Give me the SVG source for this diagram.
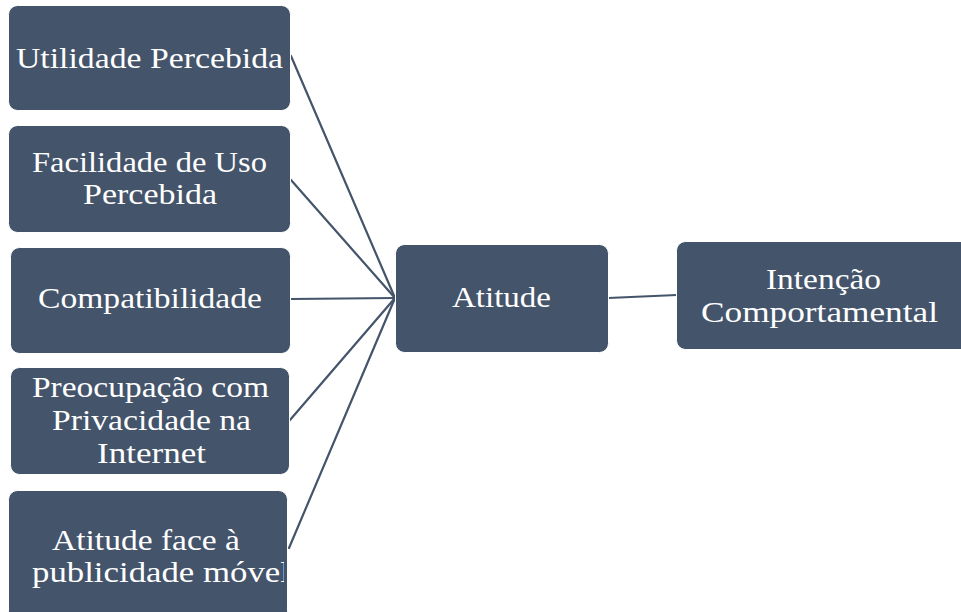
<svg xmlns="http://www.w3.org/2000/svg" width="961" height="612" viewBox="0 0 961 612">
  <style>
    .box { fill: #44546A; stroke: #ffffff; stroke-width: 1; }
    .lbl { font-family: "Liberation Serif", "DejaVu Serif", serif; font-size: 28.5px; fill: #ffffff; }
    .edge { stroke: #44546A; stroke-width: 2.2; fill: none; stroke-linecap: round; }
  </style>
  <defs>
    <clipPath id="clip-pub">
      <rect x="8" y="490" width="276" height="122"/>
    </clipPath>
  </defs>
  <rect width="961" height="612" fill="#ffffff"/>

  <!-- connectors -->
  <g id="connectors">
    <line class="edge" x1="291" y1="56" x2="395" y2="298"/>
    <line class="edge" x1="291" y1="180" x2="395" y2="298"/>
    <line class="edge" x1="291" y1="299" x2="395" y2="298"/>
    <line class="edge" x1="290" y1="420" x2="395" y2="298"/>
    <line class="edge" x1="289" y1="548" x2="395" y2="298"/>
    <line class="edge" x1="608" y1="298" x2="677" y2="295"/>
  </g>

  <g id="utilidade">
    <rect class="box" x="8.5" y="5.5" width="282" height="105" rx="9"/>
    <text class="lbl" x="16" y="68" textLength="267" lengthAdjust="spacingAndGlyphs">Utilidade Percebida</text>
  </g>

  <g id="facilidade">
    <rect class="box" x="8.5" y="125.5" width="282" height="107" rx="9"/>
    <text class="lbl" x="32" y="172" textLength="235" lengthAdjust="spacingAndGlyphs">Facilidade de Uso</text>
    <text class="lbl" x="83" y="204" textLength="134" lengthAdjust="spacingAndGlyphs">Percebida</text>
  </g>

  <g id="compatibilidade">
    <rect class="box" x="10.5" y="247.5" width="280" height="106" rx="9"/>
    <text class="lbl" x="38" y="308" textLength="224" lengthAdjust="spacingAndGlyphs">Compatibilidade</text>
  </g>

  <g id="privacidade">
    <rect class="box" x="10.5" y="367.5" width="279" height="107" rx="9"/>
    <text class="lbl" x="32" y="397" textLength="237" lengthAdjust="spacingAndGlyphs">Preocupação com</text>
    <text class="lbl" x="52" y="430" textLength="199" lengthAdjust="spacingAndGlyphs">Privacidade na</text>
    <text class="lbl" x="97" y="463" textLength="109" lengthAdjust="spacingAndGlyphs">Internet</text>
  </g>

  <g id="publicidade">
    <rect class="box" x="8.5" y="490.5" width="279" height="130" rx="9"/>
    <text class="lbl" x="52" y="550" textLength="188" lengthAdjust="spacingAndGlyphs">Atitude face à</text>
    <text class="lbl" x="32" y="582" textLength="258" lengthAdjust="spacingAndGlyphs" clip-path="url(#clip-pub)">publicidade móvel</text>
  </g>

  <g id="atitude">
    <rect class="box" x="395.5" y="244.5" width="213" height="108" rx="9"/>
    <text class="lbl" x="452" y="307" textLength="99" lengthAdjust="spacingAndGlyphs">Atitude</text>
  </g>

  <g id="intencao">
    <rect class="box" x="676.5" y="241.5" width="300" height="108" rx="9"/>
    <text class="lbl" x="766" y="289" textLength="115" lengthAdjust="spacingAndGlyphs">Intenção</text>
    <text class="lbl" x="701" y="322" textLength="237" lengthAdjust="spacingAndGlyphs">Comportamental</text>
  </g>
</svg>
